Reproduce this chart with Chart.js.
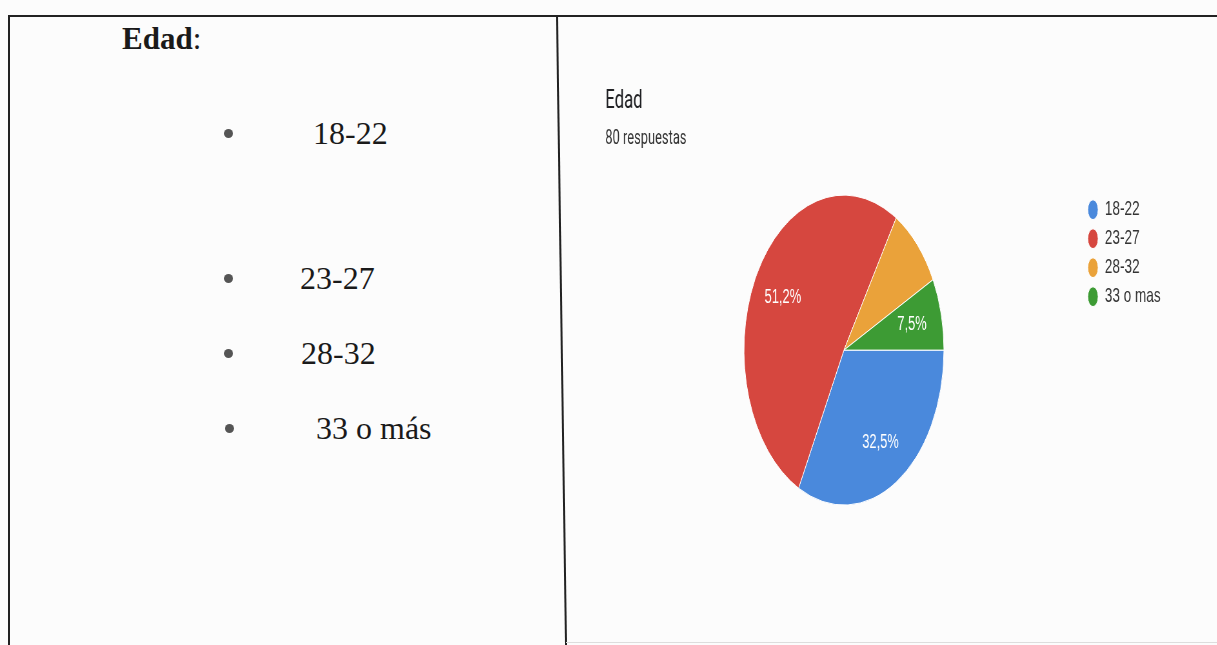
<!DOCTYPE html>
<html>
<head>
<meta charset="utf-8">
<script src="https://cdn.jsdelivr.net/npm/chart.js@4.4.1/dist/chart.umd.min.js"></script>
<style>
  body { margin: 0; background: #fcfcfc; width: 1217px; height: 645px; overflow: hidden; position: relative; }
  .line { position: absolute; background: #222; }
  .serif { position: absolute; font-family: "Liberation Serif", "Times New Roman", serif; color: #1a1a1a; white-space: nowrap; }
  .dot { position: absolute; width: 9px; height: 9px; border-radius: 50%; background: #555; }
  #wrap { position: absolute; left: 593px; top: 75px; transform: scaleX(0.645); transform-origin: 0 0; }
</style>
</head>
<body>
<div class="line" style="left:8px; top:15px; width:1209px; height:2px;"></div>
<div class="line" style="left:8px; top:15px; width:2px; height:630px;"></div>
<div class="line" style="left:556px; top:15px; width:2px; height:632px; transform: rotate(-0.82deg); transform-origin: 0 0;"></div>
<div class="line" style="left:566px; top:642px; width:651px; height:1px; background:#ddd;"></div>

<div class="serif" style="left:122px; top:23px; font-size:31px; line-height:31px;"><b>Edad</b>:</div>

<div class="dot" style="left:224px; top:129px;"></div>
<div class="serif" style="left:313px; top:117px; font-size:32px; line-height:32px;">18-22</div>
<div class="dot" style="left:224px; top:274px;"></div>
<div class="serif" style="left:300px; top:262px; font-size:32px; line-height:32px;">23-27</div>
<div class="dot" style="left:224px; top:349px;"></div>
<div class="serif" style="left:301px; top:337px; font-size:32px; line-height:32px;">28-32</div>
<div class="dot" style="left:225px; top:424px;"></div>
<div class="serif" style="left:316px; top:412px; font-size:32px; line-height:32px;">33 o más</div>

<div id="wrap"><canvas id="pieChart" width="890" height="434"></canvas></div>

<script>
const ageGroups = ['18-22', '23-27', '28-32', '33 o mas'];
const counts = [26, 41, 7, 6];
const sliceColors = ['#4a89dc', '#d6473f', '#eaa23a', '#3d9b34'];
const showPct = [true, true, false, true];

const sliceLabels = {
  id: 'sliceLabels',
  afterDatasetsDraw(chart) {
    const ctx = chart.ctx;
    const meta = chart.getDatasetMeta(0);
    const total = counts.reduce((a, b) => a + b, 0);
    ctx.save();
    ctx.fillStyle = '#fff';
    ctx.font = '20px "Liberation Sans", Arial, sans-serif';
    ctx.textAlign = 'center';
    ctx.textBaseline = 'middle';
    meta.data.forEach((arc, i) => {
      if (!showPct[i]) return;
      const p = arc.getProps(['x', 'y', 'startAngle', 'endAngle', 'outerRadius'], true);
      const mid = (p.startAngle + p.endAngle) / 2;
      const r = p.outerRadius * 0.7;
      const pct = Math.floor(counts[i] * 1000 / total) / 10;
      ctx.fillText(String(pct).replace('.', ',') + '%', p.x + Math.cos(mid) * r, p.y + Math.sin(mid) * r);
    });
    ctx.restore();
  }
};

new Chart(document.getElementById('pieChart'), {
  type: 'pie',
  data: {
    labels: ageGroups,
    datasets: [{
      data: counts,
      backgroundColor: sliceColors,
      borderColor: '#ffffff',
      borderWidth: 1,
      radius: 155
    }]
  },
  options: {
    responsive: false,
    animation: false,
    rotation: 90,
    layout: { padding: { left: 19, right: 0, top: 0, bottom: 0 } },
    plugins: {
      title: {
        display: true,
        text: 'Edad',
        align: 'start',
        color: '#202124',
        font: { family: 'Roboto, Arial, sans-serif', size: 26, weight: 'normal' },
        padding: { top: 11, bottom: 8 }
      },
      subtitle: {
        display: true,
        text: '80 respuestas',
        align: 'start',
        color: '#333',
        font: { family: 'Roboto, Arial, sans-serif', size: 20 },
        padding: { top: 2, bottom: 40 }
      },
      legend: {
        position: 'right',
        align: 'start',
        fullSize: false,
        labels: {
          usePointStyle: true,
          pointStyle: 'circle',
          boxHeight: 14,
          pointStyleWidth: 16,
          padding: 8,
          color: '#333',
          font: { family: '"Liberation Sans", Arial, sans-serif', size: 21 }
        }
      },
      tooltip: { enabled: false }
    }
  },
  plugins: [sliceLabels]
});
</script>
</body>
</html>
